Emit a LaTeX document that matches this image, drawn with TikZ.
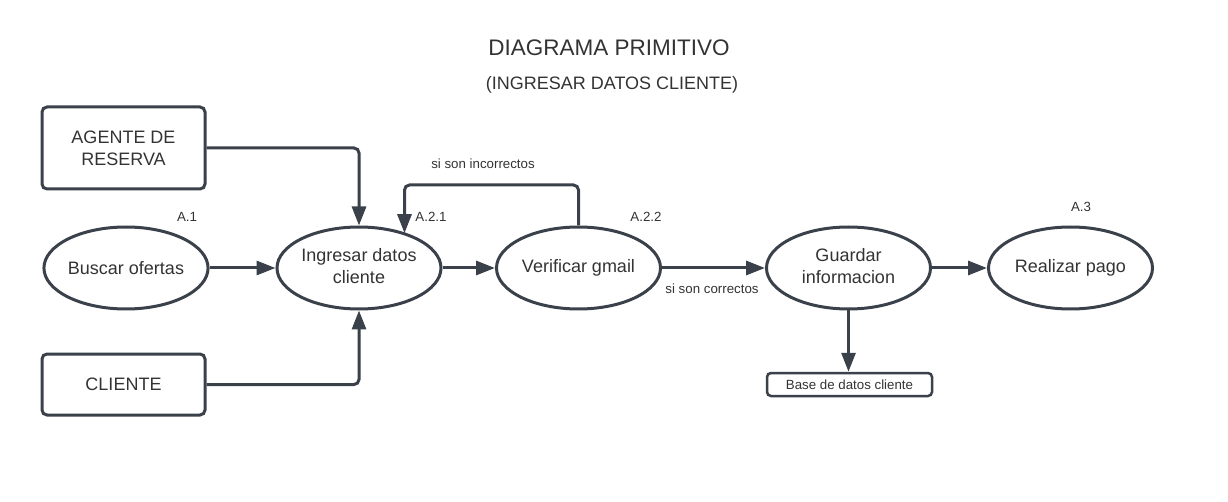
\documentclass[tikz,border=0pt]{standalone}
\usepackage{fontspec}
\setmainfont{Liberation Sans}
\usetikzlibrary{shapes.geometric,arrows.meta}
\definecolor{ln}{HTML}{3A414A}
\definecolor{tx}{HTML}{333333}
\tikzset{
  proc/.style={ellipse, draw=ln, line width=3pt, minimum width=164pt, minimum height=82pt, inner sep=0pt, align=center, text=tx, font=\fontsize{18}{22.5}\selectfont},
  ent/.style={rectangle, rounded corners=5pt, draw=ln, line width=3pt, minimum width=163pt, minimum height=82pt, inner sep=0pt, align=center, text=tx, font=\fontsize{18}{22}\selectfont},
  store/.style={rectangle, rounded corners=4pt, draw=ln, line width=2.5pt, minimum width=165pt, minimum height=23pt, inner sep=0pt, text=tx, font=\fontsize{13.3}{16}\selectfont},
  lbl/.style={text=tx, inner sep=0pt, font=\fontsize{13.3}{16}\selectfont},
  arr/.style={draw=ln, line width=3pt, rounded corners=5pt, -{Triangle[length=19pt,width=14pt]}},
}
\begin{document}
\begin{tikzpicture}[x=1pt,y=-1pt]
\useasboundingbox (0,0) rectangle (1228,502);
\node[text=tx, inner sep=0pt, font=\fontsize{22.5}{26}\selectfont] (t1) at (609,48) {DIAGRAMA PRIMITIVO};
\node[text=tx, inner sep=0pt, font=\fontsize{18}{22}\selectfont] (t2) at (612,85) {(INGRESAR DATOS CLIENTE)};

\node[ent] (age) at (123.5,148) {AGENTE DE\\RESERVA};
\node[ent, minimum height=61pt] (cli) at (123.5,384.5) {CLIENTE};

\node[proc] (bus) at (126,268) {Buscar ofertas};
\node[proc] (ing) at (359,268) {Ingresar datos\\cliente\vphantom{p}};
\node[proc] (ver) at (578.5,268) {Verificar gmail};
\node[proc] (gua) at (848.5,268) {Guardar\\informacion\vphantom{p}};
\node[proc] (rea) at (1070.5,268) {Realizar pago};
\node[store] (bd) at (849.5,384.5) {Base de datos cliente};

\node[lbl] (a1) at (187,217) {A.1};
\node[lbl] (a21) at (431,217) {A.2.1};
\node[lbl] (a22) at (646,217) {A.2.2};
\node[lbl] (a3) at (1081,207) {A.3};
\node[lbl] (inc) at (483,164) {si son incorrectos};
\node[lbl] (cor) at (712,289) {si son correctos};

\coordinate (lp) at (404.5,185);

\draw[arr] (age.east) -| (ing.north);
\draw[arr] (cli.east) -| (ing.south);
\draw[arr] (bus.east) -- (ing.west);
\draw[arr] (ing.east) -- (ver.west);
\draw[arr] (ver.east) -- (gua.west);
\draw[arr] (gua.east) -- (rea.west);
\draw[arr] (gua.south) -- (gua.south |- bd.north);
\draw[arr] (ver.north) |- (lp) -- (lp |- ing.36);
\end{tikzpicture}
\end{document}
